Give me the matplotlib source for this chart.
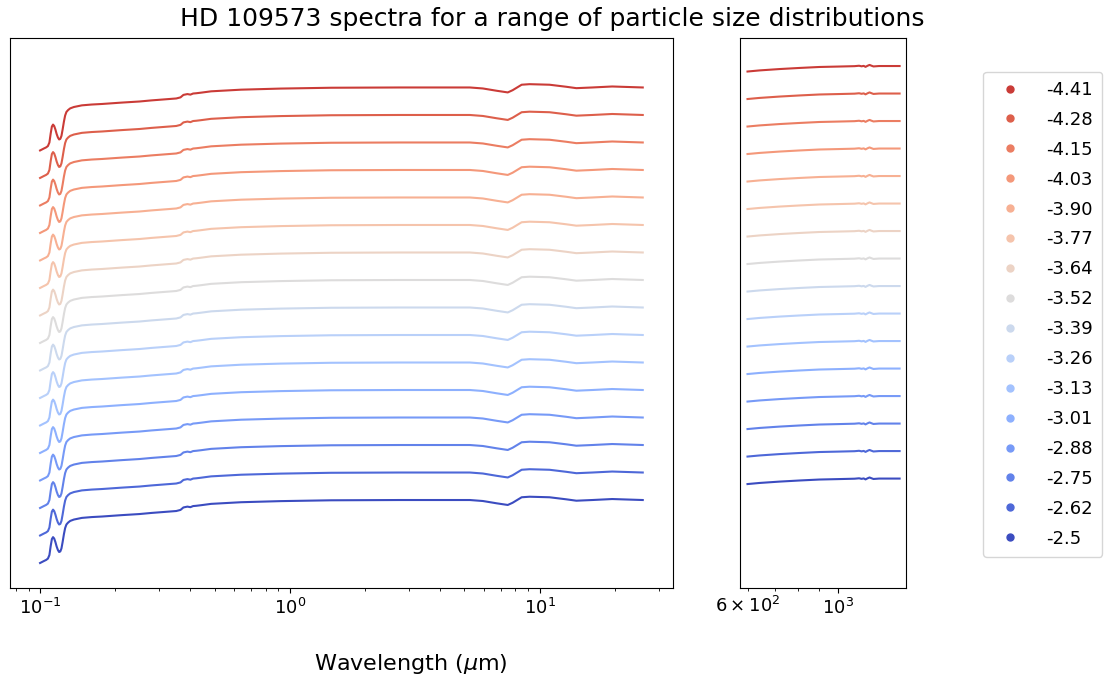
import numpy as np
import matplotlib.pyplot as plt
from matplotlib.lines import Line2D

# power-law indices of the size distributions (bottom -> top)
q_labels = ['-2.5', '-2.62', '-2.75', '-2.88', '-3.01', '-3.13', '-3.26', '-3.39',
            '-3.52', '-3.64', '-3.77', '-3.90', '-4.03', '-4.15', '-4.28', '-4.41']

# short wavelength part (micron) and shape of the lowest spectrum (arbitrary units)
wl_left = [0.100, 0.1035, 0.1057, 0.1075, 0.1090, 0.1103, 0.1115, 0.1127, 0.1139, 0.1152,
           0.1165, 0.1179, 0.1192, 0.1205, 0.1218, 0.1231, 0.1246, 0.1260, 0.1275, 0.1295,
           0.1320, 0.1366, 0.147, 0.161, 0.177, 0.212, 0.25, 0.279, 0.351, 0.365,
           0.375, 0.389, 0.40, 0.41, 0.422, 0.44, 0.484, 0.638, 0.92, 1.46,
           2.76, 5.26, 5.93, 6.74, 7.46, 7.80, 8.48, 9.12, 10.96, 12.81,
           14.04, 16.26, 19.54, 25.9]
flux_left = [0.91, 0.98, 1.02, 1.07, 1.20, 1.53, 1.78, 1.85, 1.80, 1.67,
             1.51, 1.38, 1.31, 1.33, 1.44, 1.67, 1.96, 2.18, 2.31, 2.38,
             2.44, 2.49, 2.55, 2.58, 2.60, 2.65, 2.69, 2.73, 2.80, 2.84,
             2.93, 2.96, 2.94, 2.98, 2.99, 3.01, 3.06, 3.12, 3.16, 3.19,
             3.20, 3.20, 3.164, 3.08, 3.02, 3.10, 3.30, 3.32, 3.30, 3.225,
             3.175, 3.20, 3.236, 3.20]

# sub-mm part
wl_right = [600, 642, 720, 806, 902, 1000, 1101, 1130, 1146, 1160, 1172, 1186, 1199, 1213,
            1226, 1266, 1340, 1422]
flux_right = [3.78, 3.82, 3.87, 3.91, 3.945, 3.96, 3.975, 3.99, 3.97, 3.985, 3.95, 3.99, 4.02, 3.99,
              3.965, 3.98, 3.98, 3.98]

offset_step = 1.0

fig = plt.figure(figsize=(11.04, 6.78), dpi=100)
ax1 = fig.add_axes([0.009, 0.1327, 0.6005, 0.8113])
ax2 = fig.add_axes([0.6703, 0.1327, 0.1504, 0.8113])

cmap = plt.get_cmap('coolwarm')
n = len(q_labels)
handles = []
for i in range(n):
    col = cmap(i / n)
    off = i * offset_step
    ax1.plot(wl_left, np.array(flux_left) + off, color=col, lw=1.5)
    ax2.plot(wl_right, np.array(flux_right) + off, color=col, lw=1.5)
    handles.append(Line2D([], [], ls='none', marker='o', ms=5, color=col, label=q_labels[i]))

for ax in (ax1, ax2):
    ax.set_xscale('log')
    ax.set_yticks([])
    ax.set_ylim(0, 20)
    ax.tick_params(which='both', labelsize=13)

ax2.set_xlim(575, 1475)

fig.suptitle('HD 109573 spectra for a range of particle size distributions', fontsize=18, y=0.99)
fig.text(0.372, 0.0206, r'Wavelength ($\mu$m)', fontsize=16, ha='center', va='center')

fig.legend(handles=handles[::-1], loc='upper left', bbox_to_anchor=(0.8904, 0.894),
           borderaxespad=0, fontsize=13, frameon=True, labelspacing=0.66,
           handletextpad=1.02, borderpad=0.5)

fig.savefig('out.png', dpi=100)
